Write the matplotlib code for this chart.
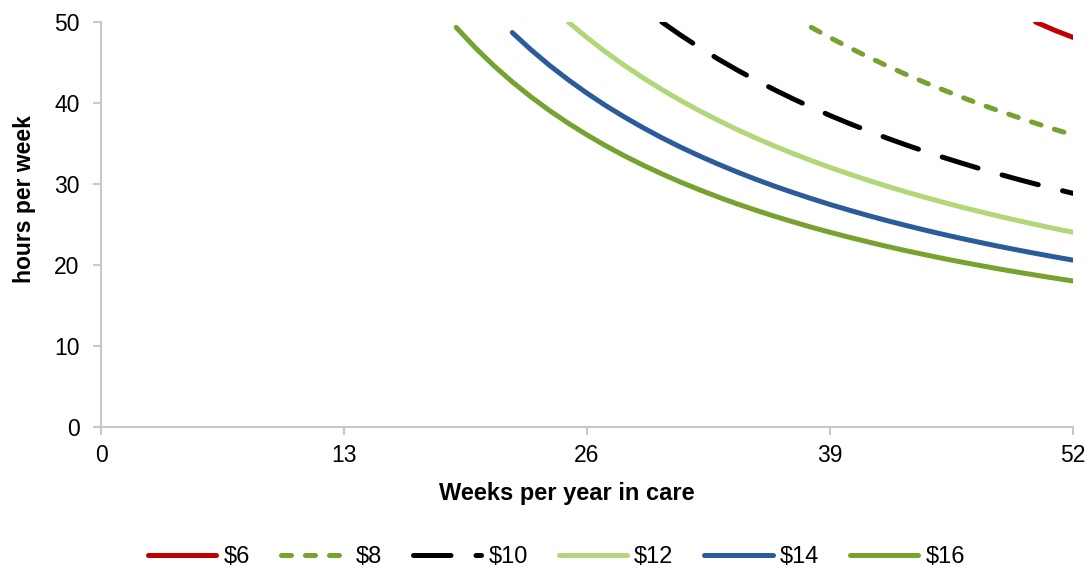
import matplotlib
matplotlib.use('Agg')
import matplotlib.pyplot as plt

plt.rcParams['font.family'] = ['Liberation Sans', 'DejaVu Sans']

# hours per week needed at each hourly rate, by weeks per year in care
wk_6 = [50, 51, 52]
hrs_6 = [50.0, 49.0, 48.1]

wk_8 = list(range(38, 53))
hrs_8 = [49.34, 48.08, 46.88, 45.73, 44.64, 43.60, 42.61, 41.67, 40.76, 39.89,
         39.06, 38.27, 37.50, 36.76, 36.06]

wk_10 = list(range(30, 53))
hrs_10 = [50.00, 48.39, 46.88, 45.45, 44.12, 42.86, 41.67, 40.54, 39.47, 38.46,
          37.50, 36.59, 35.71, 34.88, 34.09, 33.33, 32.61, 31.91, 31.25, 30.61,
          30.00, 29.41, 28.85]

wk_12 = list(range(25, 53))
hrs_12 = [50.00, 48.08, 46.30, 44.64, 43.10, 41.67, 40.32, 39.06, 37.88, 36.76,
          35.71, 34.72, 33.78, 32.89, 32.05, 31.25, 30.49, 29.76, 29.07, 28.41,
          27.78, 27.17, 26.60, 26.04, 25.51, 25.00, 24.51, 24.04]

wk_14 = list(range(22, 53))
hrs_14 = [48.70, 46.58, 44.64, 42.86, 41.21, 39.68, 38.27, 36.95, 35.71, 34.56,
          33.48, 32.47, 31.51, 30.61, 29.76, 28.96, 28.20, 27.47, 26.79, 26.13,
          25.51, 24.92, 24.35, 23.81, 23.29, 22.80, 22.32, 21.87, 21.43, 21.01,
          20.60]

wk_16 = list(range(19, 53))
hrs_16 = [49.34, 46.88, 44.64, 42.61, 40.76, 39.06, 37.50, 36.06, 34.72, 33.48,
          32.33, 31.25, 30.24, 29.30, 28.41, 27.57, 26.79, 26.04, 25.34, 24.67,
          24.04, 23.44, 22.87, 22.32, 21.80, 21.31, 20.83, 20.38, 19.95, 19.53,
          19.13, 18.75, 18.38, 18.03]

labels = ['$6', '$8', '$10', '$12', '$14', '$16']
x_ticks = [0, 13, 26, 39, 52]
y_ticks = [0, 10, 20, 30, 40, 50]

fig = plt.figure(figsize=(10.91, 5.69), dpi=100)
ax = fig.add_axes([0.0926, 0.2496, 0.8909, 0.7117])

lw = 3.6
ax.plot(wk_6, hrs_6, color='#C00000', lw=lw, solid_capstyle='round', label=labels[0])
ax.plot(wk_8, hrs_8, color='#77A22F', lw=lw, dashes=(2.0, 2.8),
        dash_capstyle='round', label=labels[1])
ax.plot(wk_10, hrs_10, color='black', lw=lw, dashes=(7.5, 5.0),
        dash_capstyle='round', label=labels[2])
ax.plot(wk_12, hrs_12, color='#B2D778', lw=lw, solid_capstyle='round', label=labels[3])
ax.plot(wk_14, hrs_14, color='#2A5C9B', lw=lw, solid_capstyle='round', label=labels[4])
ax.plot(wk_16, hrs_16, color='#77A22F', lw=lw, solid_capstyle='round', label=labels[5])

ax.set_xlim(0, 52)
ax.set_ylim(0, 50)
ax.set_xticks(x_ticks)
ax.set_yticks(y_ticks)
for s in ['top', 'right']:
    ax.spines[s].set_visible(False)
for s in ['left', 'bottom']:
    ax.spines[s].set_color('#C8C8C8')
    ax.spines[s].set_linewidth(1.5)
ax.tick_params(axis='both', colors='#C8C8C8', length=5.5, width=1.5,
               labelcolor='black', labelsize=16.5)
ax.tick_params(axis='y', pad=10)
ax.tick_params(axis='x', pad=7)

ax.set_xlabel('Weeks per year in care', fontsize=17, fontweight='bold')
ax.set_ylabel('hours per week', fontsize=16.5, fontweight='bold')
ax.xaxis.set_label_coords(0.479, -0.136)
ax.yaxis.set_label_coords(-0.067, 0.564)

fig.legend(loc='center', bbox_to_anchor=(0.510, 0.021), ncol=6, frameon=False,
           fontsize=17, handlelength=2.9, handletextpad=0.3, columnspacing=1.3)

fig.savefig('out.png', dpi=100)
